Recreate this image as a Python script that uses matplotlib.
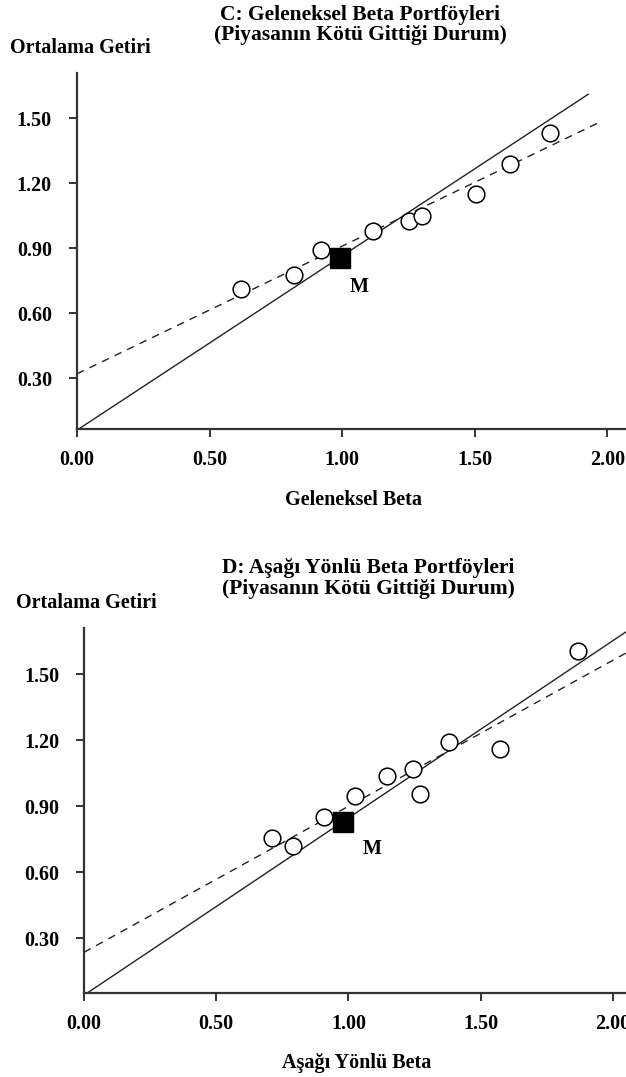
import matplotlib
matplotlib.use("Agg")
import matplotlib.pyplot as plt
import numpy as np

# ---------------- data ----------------
# Panel C: traditional beta portfolios (down market)
c_beta = [0.62, 0.82, 0.92, 1.117, 1.25, 1.30, 1.506, 1.634, 1.785]
c_ret = [0.71, 0.776, 0.89, 0.98, 1.025, 1.05, 1.15, 1.288, 1.435]
c_market = (0.99, 0.854)
c_solid = (0.06, 0.805, 1.93)   # intercept, slope, x end
c_dashed = (0.32, 0.59, 1.97)

# Panel D: downside beta portfolios (down market)
d_beta = [0.71, 0.79, 0.907, 1.025, 1.145, 1.246, 1.27, 1.38, 1.575, 1.87]
d_ret = [0.753, 0.72, 0.852, 0.948, 1.035, 1.07, 0.955, 1.19, 1.16, 1.605]
d_market = (0.978, 0.828)
d_solid = (0.04, 0.806, 2.05)
d_dashed = (0.235, 0.664, 2.05)

xticks = [0.0, 0.5, 1.0, 1.5, 2.0]
xticklabels = ["0.00", "0.50", "1.00", "1.50", "2.00"]
yticks = [0.30, 0.60, 0.90, 1.20, 1.50]
yticklabels = ["0.30", "0.60", "0.90", "1.20", "1.50"]

W, H = 626, 1077
FONT = "Liberation Serif"
fig = plt.figure(figsize=(W / 100, H / 100), dpi=100)

def frac(x, y):
    return x / W, 1 - y / H

def panel(left_px, top_px, bottom_px, xlim, ylim, beta, ret, market, solid, dashed,
          title1, title2, title_x, title_y1, title_y2, ylab_xy, xlab, xlab_xy, mlabel_xy):
    l = left_px / W
    b = 1 - bottom_px / H
    t = 1 - top_px / H
    ax = fig.add_axes([l, b, 1.0 - l, t - b])
    ax.set_xlim(*xlim)
    ax.set_ylim(*ylim)
    for s in ["top", "right"]:
        ax.spines[s].set_visible(False)
    for s in ["left", "bottom"]:
        ax.spines[s].set_linewidth(1.6)
        ax.spines[s].set_color("#333333")
    ax.set_xticks(xticks)
    ax.set_xticklabels(xticklabels)
    ax.set_yticks(yticks)
    ax.set_yticklabels(yticklabels)
    ax.tick_params(axis="both", direction="out", length=6, width=1.4, color="#333333")
    ax.tick_params(axis="x", pad=9)
    ax.tick_params(axis="y", pad=12)
    for lab in ax.get_xticklabels() + ax.get_yticklabels():
        lab.set_fontfamily(FONT)
        lab.set_fontweight("bold")
        lab.set_fontsize(14.5)
    # lines
    xs = np.array([0.0, solid[2]])
    ax.plot(xs, solid[0] + solid[1] * xs, color="#222222", lw=1.0, solid_capstyle="butt")
    xd = np.array([0.0, dashed[2]])
    ax.plot(xd, dashed[0] + dashed[1] * xd, color="#222222", lw=1.0, dashes=(5.5, 4.5))
    ax.plot(beta, ret, linestyle="none", marker="o", ms=12, mfc="white",
            mec="black", mew=1.1, zorder=3)
    ax.plot([market[0]], [market[1]], linestyle="none", marker="s", ms=14,
            color="black", zorder=4)
    ax.text(mlabel_xy[0], mlabel_xy[1], "M", fontfamily=FONT, fontweight="bold",
            fontsize=14.5, ha="center", va="center")
    fx, fy = frac(title_x, title_y1)
    fig.text(fx, fy, title1, fontfamily=FONT, fontweight="bold", fontsize=15.5,
             ha="center", va="center")
    fx, fy = frac(title_x, title_y2)
    fig.text(fx, fy, title2, fontfamily=FONT, fontweight="bold", fontsize=15.5,
             ha="center", va="center")
    fx, fy = frac(*ylab_xy)
    fig.text(fx, fy, "Ortalama Getiri", fontfamily=FONT, fontweight="bold",
             fontsize=14.5, ha="left", va="center")
    fx, fy = frac(*xlab_xy)
    fig.text(fx, fy, xlab, fontfamily=FONT, fontweight="bold", fontsize=14.5,
             ha="center", va="center")
    return ax

panel(77, 73, 429, (0, 2.07), (0.065, 1.71), c_beta, c_ret, c_market, c_solid, c_dashed,
      "C: Geleneksel Beta Portföyleri", "(Piyasanın Kötü Gittiği Durum)",
      360, 15, 35, (10, 48), "Geleneksel Beta", (353, 500), (1.064, 0.72))

panel(84, 628, 993, (0, 2.05), (0.05, 1.71), d_beta, d_ret, d_market, d_solid, d_dashed,
      "D: Aşağı Yönlü Beta Portföyleri", "(Piyasanın Kötü Gittiği Durum)",
      368, 568, 589, (16, 603), "Aşağı Yönlü Beta", (357, 1063), (1.09, 0.705))

fig.savefig("out.png", dpi=100)
